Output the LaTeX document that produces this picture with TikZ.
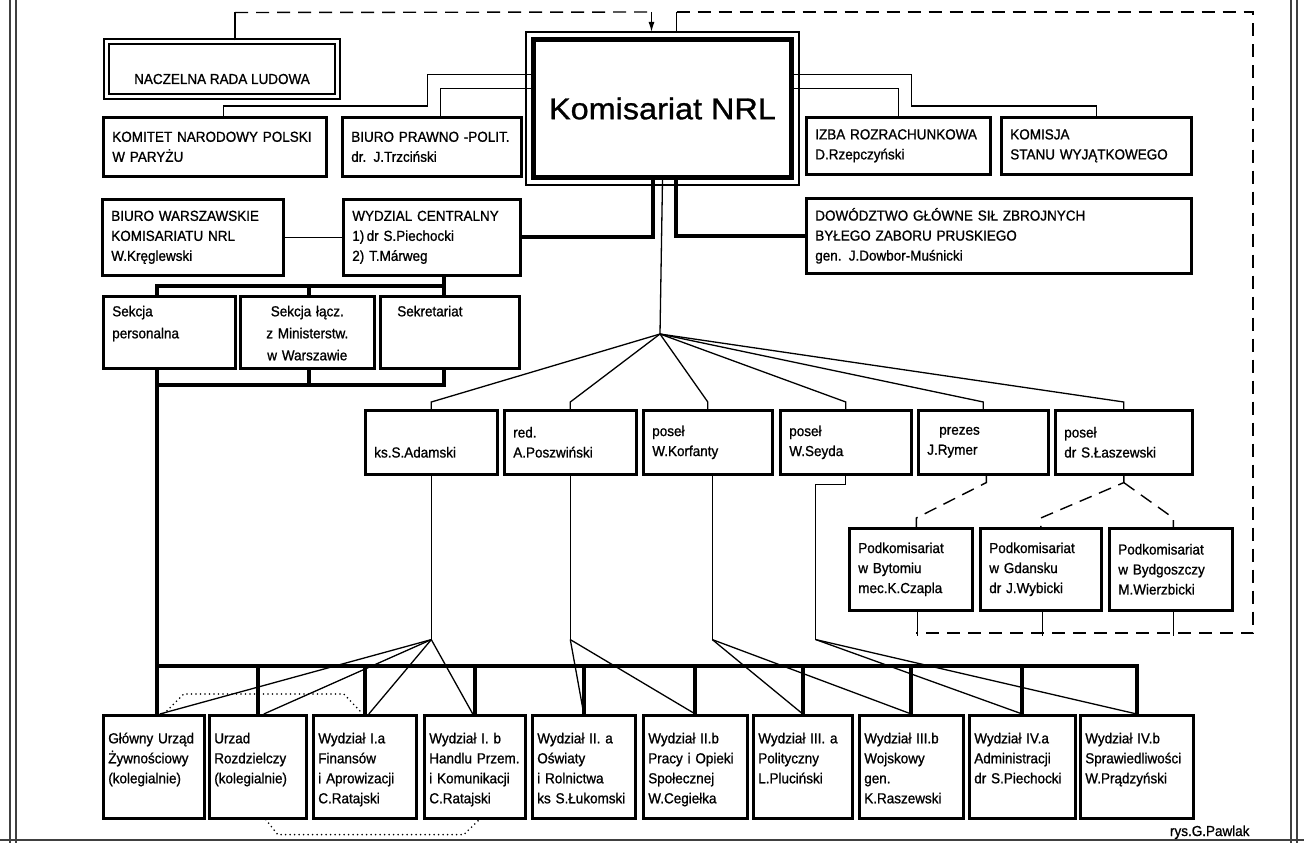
\documentclass[tikz,border=0pt]{standalone}
\usepackage{fontspec}
\setmainfont{Liberation Sans}[FakeStretch=0.93, FakeBold=1]
\newfontfamily\titlefont{Liberation Sans}[FakeStretch=1.08, FakeBold=1]
\usetikzlibrary{arrows.meta}

\begin{document}
\begin{tikzpicture}[x=1pt, y=-1pt, font=\fontsize{14.5}{20}\selectfont,
  link/.style={line width=1.3pt},
  bus/.style={line width=4pt, line cap=rect},
  dashlink/.style={line width=1.4pt, dash pattern=on 13pt off 8pt},
  dotlink/.style={line width=1.8pt, line cap=round, dash pattern=on 0pt off 4.5pt},
  frame/.style={line width=1.2pt, black!75},
  unit/.style 2 args={draw, line width=2.6pt, anchor=north west, inner xsep=9pt, inner ysep=2pt,
    minimum width=#1, minimum height=#2, text width=#1-18, align=left},
  sekcja/.style={unit={#1}{72}, inner ysep=0pt, text height=20pt, text depth=52pt,
    font=\fontsize{14.5}{22}\selectfont},
  person/.style={unit={#1}{64}},
  podkom/.style={unit={#1}{82}},
  dept/.style={draw, line width=2.6pt, anchor=north west, inner xsep=5pt, inner ysep=0pt,
    text width=#1-10, text height=28pt, text depth=75pt, align=left},
  council/.style={draw, double, double distance=3pt, line width=2pt, anchor=north west,
    minimum width=231, minimum height=55, text height=31pt, text depth=1pt}]

  \useasboundingbox (0,0) rectangle (1304,843);
  \draw[frame] (10,0) -- (10,843) (16,0) -- (16,843) (1291,0) -- (1291,843) (1297,0) -- (1297,843)
    (0,840) -- (1304,840);

  \node[council] (nrl) at (105.5,40.5) {NACZELNA RADA LUDOWA};
  \node[draw, line width=5pt, anchor=north west, minimum width=258, minimum height=138,
    font=\titlefont\fontsize{30}{36}\selectfont] (kom) at (531,37) {Komisariat NRL};
  \draw[link] ([shift={(-5pt,5pt)}]kom.north west) rectangle ([shift={(5pt,-5pt)}]kom.south east);

  \node[unit={223}{59}] (komitet) at (102,116) {KOMITET NARODOWY POLSKI\\W PARYŻU};
  \node[unit={179}{59}] (prawne) at (341,116) {BIURO PRAWNO -POLIT.\\dr. J.Trzciński};
  \node[unit={184}{57}] (izba) at (805,116) {IZBA ROZRACHUNKOWA\\D.Rzepczyński};
  \node[unit={190}{57}] (komisja) at (1000,116) {KOMISJA\\STANU WYJĄTKOWEGO};

  \node[unit={181}{76}] (biurowarsz) at (101,198) {BIURO WARSZAWSKIE\\KOMISARIATU NRL\\W.Kręglewski};
  \node[unit={177}{76}] (wydzcent) at (342,198) {WYDZIAL CENTRALNY\\1)\,dr S.Piechocki\\2) T.Márweg};
  \node[unit={385}{75}] (dowodztwo) at (805,197) {DOWÓDZTWO GŁÓWNE SIŁ ZBROJNYCH\\BYŁEGO ZABORU PRUSKIEGO\\gen. J.Dowbor-Muśnicki};

  \node[sekcja=132] (sekpers) at (102,295) {Sekcja\\personalna};
  \node[sekcja=134, align=center] (seklacz) at (239,295) {Sekcja łącz.\\z Ministerstw.\\w Warszawie};
  \node[sekcja=139] (sekret) at (379,295) {\hspace*{8pt}Sekretariat};

  \node[person=132] (adamski) at (364,409) {\phantom{poseł}\\ks.S.Adamski};
  \node[person=132] (poszwinski) at (503,409) {red.\\A.Poszwiński};
  \node[person=129] (korfanty) at (642,409) {poseł\\W.Korfanty};
  \node[person=131] (seyda) at (779,409) {poseł\\W.Seyda};
  \node[person=130] (rymer) at (917,409) {\hspace*{12pt}prezes\\J.Rymer};
  \node[person=137] (laszewski) at (1054,409) {poseł\\dr S.Łaszewski};

  \node[podkom=123] (bytom) at (848,527) {Podkomisariat\\w Bytomiu\\mec.K.Czapla};
  \node[podkom=121] (gdansk) at (979,527) {Podkomisariat\\w Gdansku\\dr J.Wybicki};
  \node[podkom=123] (bydg) at (1108,527) {Podkomisariat\\w Bydgoszczy\\M.Wierzbicki};

  \node[dept=101] (glowny) at (102,714) {Główny Urząd\\Żywnościowy\\(kolegialnie)};
  \node[dept=97] (rozdz) at (208,714) {Urzad\\Rozdzielczy\\(kolegialnie)};
  \node[dept=103] (wydz1a) at (312,714) {Wydział I.a\\Finansów\\i Aprowizacji\\C.Ratajski};
  \node[dept=101] (wydz1b) at (423,714) {Wydział I. b\\Handlu Przem.\\i Komunikacji\\C.Ratajski};
  \node[dept=103] (wydz2a) at (531,714) {Wydział II. a\\Oświaty\\i Rolnictwa\\ks S.Łukomski};
  \node[dept=104] (wydz2b) at (642,714) {Wydział II.b\\Pracy i Opieki\\Społecznej\\W.Cegiełka};
  \node[dept=99] (wydz3a) at (752,714) {Wydział III. a\\Polityczny\\L.Pluciński};
  \node[dept=104] (wydz3b) at (858,714) {Wydział III.b\\Wojskowy\\gen.\\K.Raszewski};
  \node[dept=106] (wydz4a) at (968,714) {Wydział IV.a\\Administracji\\dr S.Piechocki};
  \node[dept=113] (wydz4b) at (1079,714) {Wydział IV.b\\Sprawiedliwości\\W.Prądzyński};

  \node[anchor=base east] (sign) at (1253,836) {rys.G.Pawlak};

  \draw[link] ([xshift=13pt]nrl.north) -- ++(0,-28) coordinate (nrlup);
  \coordinate (komin) at ([xshift=-11pt,yshift=25pt]kom.north);
  \coordinate (komout) at ([xshift=14pt,yshift=25pt]kom.north);
  \coordinate (ringcorner) at (1253,633);
  \draw[dashlink] (nrlup) -- (komin);
  \draw[link,-{Latex[length=10pt,width=6pt]}] (komin) -- ([xshift=-11pt,yshift=5pt]kom.north);
  \draw[link] ([xshift=14pt,yshift=5pt]kom.north) -- (komout);
  \draw[dashlink] (komout) -| (ringcorner) -- ++(-337,0);
  \foreach \p/\s in {bytom/6.5,gdansk/1.5,bydg/2.5}
    \draw[link] ([xshift=\s pt]\p.south) -- ++(0,24);

  \draw[link] ([xshift=8.5pt]komitet.north) -- ++(0,-10) -- ++(204,0) |- ([yshift=34pt]kom.west);
  \draw[link] ([xshift=8.5pt]prawne.north) |- ([yshift=20pt]kom.west);
  \draw[link] (izba.north) |- ([yshift=20pt]kom.east);
  \draw[link] (komisja.north) -- ++(0,-10) -- ++(-185,0) |- ([yshift=34pt]kom.east);
  \draw[link] (biurowarsz.east) -- (wydzcent.west);

  \draw[bus] ([xshift=-10pt]kom.south) |- (wydzcent.east);
  \draw[bus] ([xshift=13pt]kom.south) |- (dowodztwo.west);

  \draw[bus] ([xshift=12.5pt]wydzcent.south) -- ([xshift=-5.5pt]sekret.north);
  \draw[bus] ([xshift=-12pt]sekpers.north) -- ++(0,-9) -- ++(287,0);
  \draw[bus] ([xshift=2pt]seklacz.north) -- ++(0,-9);
  \draw[bus] ([xshift=-12pt]sekpers.south) -- ([xshift=3.5pt]glowny.north);
  \draw[bus] ([xshift=-12pt]sekpers.south) -- ++(0,15) -- ++(287,0) -- ([xshift=-5.5pt]sekret.south);
  \draw[bus] ([xshift=2pt]seklacz.south) -- ++(0,15);

  \draw[bus] ([xshift=3.5pt,yshift=48pt]glowny.north) -| (wydz4b.north);
  \foreach \d in {rozdz,wydz1a,wydz1b,wydz2a,wydz2b,wydz3a,wydz3b,wydz4a}
    \draw[bus] (\d.north) -- ++(0,-48);

  \coordinate (fan) at (660,334);
  \draw[link] (kom.south) -- (fan);
  \foreach \p in {adamski,poszwinski,korfanty,seyda,rymer,laszewski}
    \draw[link] (fan) -- ([yshift=7pt]\p.north) -- (\p.north);

  \draw[dashlink] ([xshift=3pt]rymer.south) -- ++(0,7) -- ([xshift=5.5pt,yshift=9pt]bytom.north) -- ([xshift=5.5pt]bytom.north);
  \draw[dashlink] (laszewski.south) -- ++(0,7) coordinate (lfork) -- ([yshift=9pt]gdansk.north) -- (gdansk.north);
  \draw[dashlink] (lfork) -- ([xshift=2.5pt,yshift=9pt]bydg.north) -- ([xshift=2.5pt]bydg.north);

  \draw[link] (adamski.south) -- ++(0,164) coordinate (adamskifoot);
  \foreach \d/\s in {glowny/6,rozdz/6,wydz1a/4,wydz1b/-2}
    \draw[link] (adamskifoot) -- ([xshift=\s pt]\d.north);
  \draw[link] (poszwinski.south) -- ++(0,164) coordinate (poszfoot);
  \foreach \d in {wydz2a,wydz2b}
    \draw[link] (poszfoot) -- (\d.north);
  \draw[link] ([xshift=4.5pt]korfanty.south) -- ++(0,164) coordinate (korffoot);
  \foreach \d in {wydz3a,wydz3b}
    \draw[link] (korffoot) -- (\d.north);
  \draw[link] (seyda.south) -- ++(0,9) -| ++(-30,155) coordinate (seydafoot);
  \foreach \d in {wydz4a,wydz4b}
    \draw[link] (seydafoot) -- (\d.north);

  \draw[dotlink] ([xshift=10pt]glowny.north) -- ++(20,-20) -- ++(160,0) -- ([xshift=-2pt]wydz1a.north);
  \draw[dotlink] ([xshift=8pt]rozdz.south) -- ++(12,15) -- ++(186,0) -- ([xshift=4.5pt]wydz1b.south);
\end{tikzpicture}
\end{document}
